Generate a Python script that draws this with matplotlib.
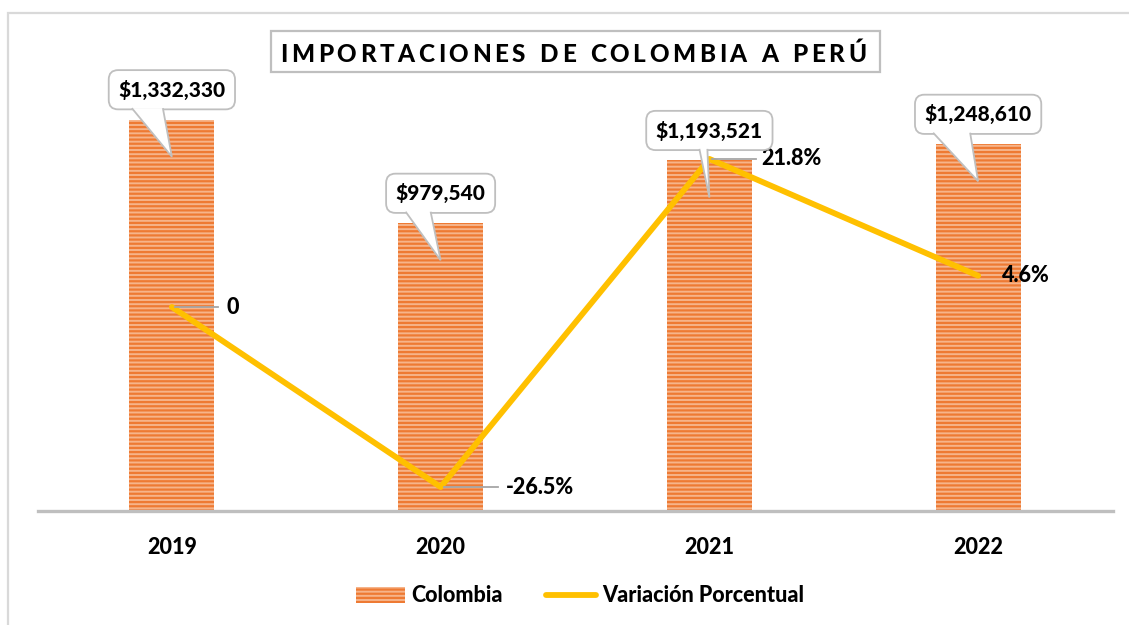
import matplotlib
matplotlib.use("Agg")
import matplotlib.pyplot as plt
import matplotlib.transforms as mtrans
from matplotlib.patches import Rectangle
from matplotlib.lines import Line2D
from matplotlib.path import Path
from matplotlib.patches import PathPatch

# ---- data ----
years = ["2019", "2020", "2021", "2022"]
imports = [1332330, 979540, 1193521, 1248610]
variation = [0.0, -26.5, 21.8, 4.6]
import_labels = ["$1,332,330", "$979,540", "$1,193,521", "$1,248,610"]
variation_labels = ["0", "-26.5%", "21.8%", "4.6%"]
title = "IMPORTACIONES DE COLOMBIA A PERÚ"

FONT = ["Lato", "DejaVu Sans"]
plt.rcParams["font.family"] = FONT
plt.rcParams["hatch.linewidth"] = 1.6
WT = 900

W, H = 1129, 625
DPI = 100
fig = plt.figure(figsize=(W / DPI, H / DPI), dpi=DPI)
fig.patch.set_facecolor("white")
ID = mtrans.IdentityTransform()

fig.add_artist(Rectangle((8 / W, -0.05), 1.2, 1 - 13 / H + 0.05, transform=fig.transFigure,
                         fill=False, ec="#D9D9D9", lw=1.6, zorder=0))

ax = fig.add_axes([37.5 / W, (H - 510.8) / H, 1075 / W, 475.5 / H])
ax.set_facecolor("none")
x = list(range(len(years)))
bars = ax.bar(x, imports, width=0.316, color="#F6B48A", edgecolor="#EE7A33",
              hatch="----", linewidth=0, zorder=2)
ax.set_xlim(-0.5, 3.5)
ax.set_ylim(0, 1620000)
for s in ["left", "right", "top"]:
    ax.spines[s].set_visible(False)
ax.spines["bottom"].set_color("#BFBFBF")
ax.spines["bottom"].set_linewidth(2.4)
ax.set_yticks([])
ax.set_xticks(x)
ax.set_xticklabels(years, fontsize=15.5, fontweight=WT)
ax.tick_params(axis="x", length=0, pad=19)

ax2 = ax.twinx()
ax2.set_ylim(-30, 40)
ax2.set_yticks([])
for s in ["left", "right", "top", "bottom"]:
    ax2.spines[s].set_visible(False)
ax2.plot(x, variation, color="#FFC000", lw=4.2, solid_capstyle="round",
         solid_joinstyle="round", zorder=3)

leader = [46, 57, 47, 0]
text_off = [55, 65, 52, 24]
for i in range(len(years)):
    px, py = ax2.transData.transform((x[i], variation[i]))
    if leader[i] > 0:
        fig.add_artist(Line2D([px + 3, px + leader[i]], [py, py], transform=ID,
                              color="#A6A6A6", lw=1.3, zorder=4))
    fig.text(px + text_off[i], py, variation_labels[i], transform=ID,
             fontsize=15.5, fontweight=WT, ha="left", va="center", zorder=6)

fig.canvas.draw()
renderer = fig.canvas.get_renderer()
tail_base = [(-40, -9), (-35, -10), (-10, -2), (-45, -8)]
for i in range(len(years)):
    px, py = ax.transData.transform((x[i], imports[i]))
    t = fig.text(px, py + 30, import_labels[i], transform=ID,
                 fontsize=15, fontweight=WT, ha="center", va="center", zorder=10,
                 bbox=dict(boxstyle="round,pad=0.46,rounding_size=0.45", fc="white",
                           ec="#BFBFBF", lw=1.3))
    fig.canvas.draw()
    bb = t.get_bbox_patch().get_window_extent(renderer)
    yb = bb.y0
    tip = (px, py - 37)
    verts = [(px + tail_base[i][0], yb + 1.2), tip, (px + tail_base[i][1], yb + 1.2)]
    path = Path(verts, [Path.MOVETO, Path.LINETO, Path.LINETO])
    fig.add_artist(PathPatch(path, transform=ID, fc="white",
                             ec="#BFBFBF", lw=1.3, zorder=11))

# title box + tracked title text
fig.add_artist(Rectangle((271 / W, 1 - 72 / H), 609 / W, 41 / H, transform=fig.transFigure,
                         fc="white", ec="#BFBFBF", lw=1.6, zorder=5))
TFS = 17.5
chars = list(title)
widths = []
for c in chars:
    if c == " ":
        widths.append(None)
        continue
    tt = fig.text(0, 0, c, fontsize=TFS, fontweight=WT)
    widths.append(tt.get_window_extent(renderer).width)
    tt.remove()
x0_t, x1_t = 280.0, 866.0
space_w = 7.0
letters_w = sum(w for w in widths if w is not None)
n_gaps = len(chars) - 1
tracking = (x1_t - x0_t - letters_w - space_w * chars.count(" ")) / n_gaps
cx = x0_t
ty = H - 52
for c, w in zip(chars, widths):
    if w is None:
        cx += space_w + tracking
        continue
    fig.text(cx, ty, c, transform=ID, fontsize=TFS, fontweight=WT, ha="left",
             va="center_baseline", zorder=6)
    cx += w + tracking

handles = [Rectangle((0, 0), 1, 1, fc="#F6B48A", ec="#EE7A33", hatch="----", lw=0),
           Line2D([0], [0], color="#FFC000", lw=4.2, solid_capstyle="round")]
leg = fig.legend(handles, ["Colombia", "Variación Porcentual"], loc="center",
                 bbox_to_anchor=(580 / W, 1 - 596 / H), ncol=2, frameon=False,
                 prop=dict(size=15.5, weight=WT), handlelength=2.3, handleheight=0.7,
                 columnspacing=2.0, handletextpad=0.3)

fig.savefig("out.png", dpi=DPI)
